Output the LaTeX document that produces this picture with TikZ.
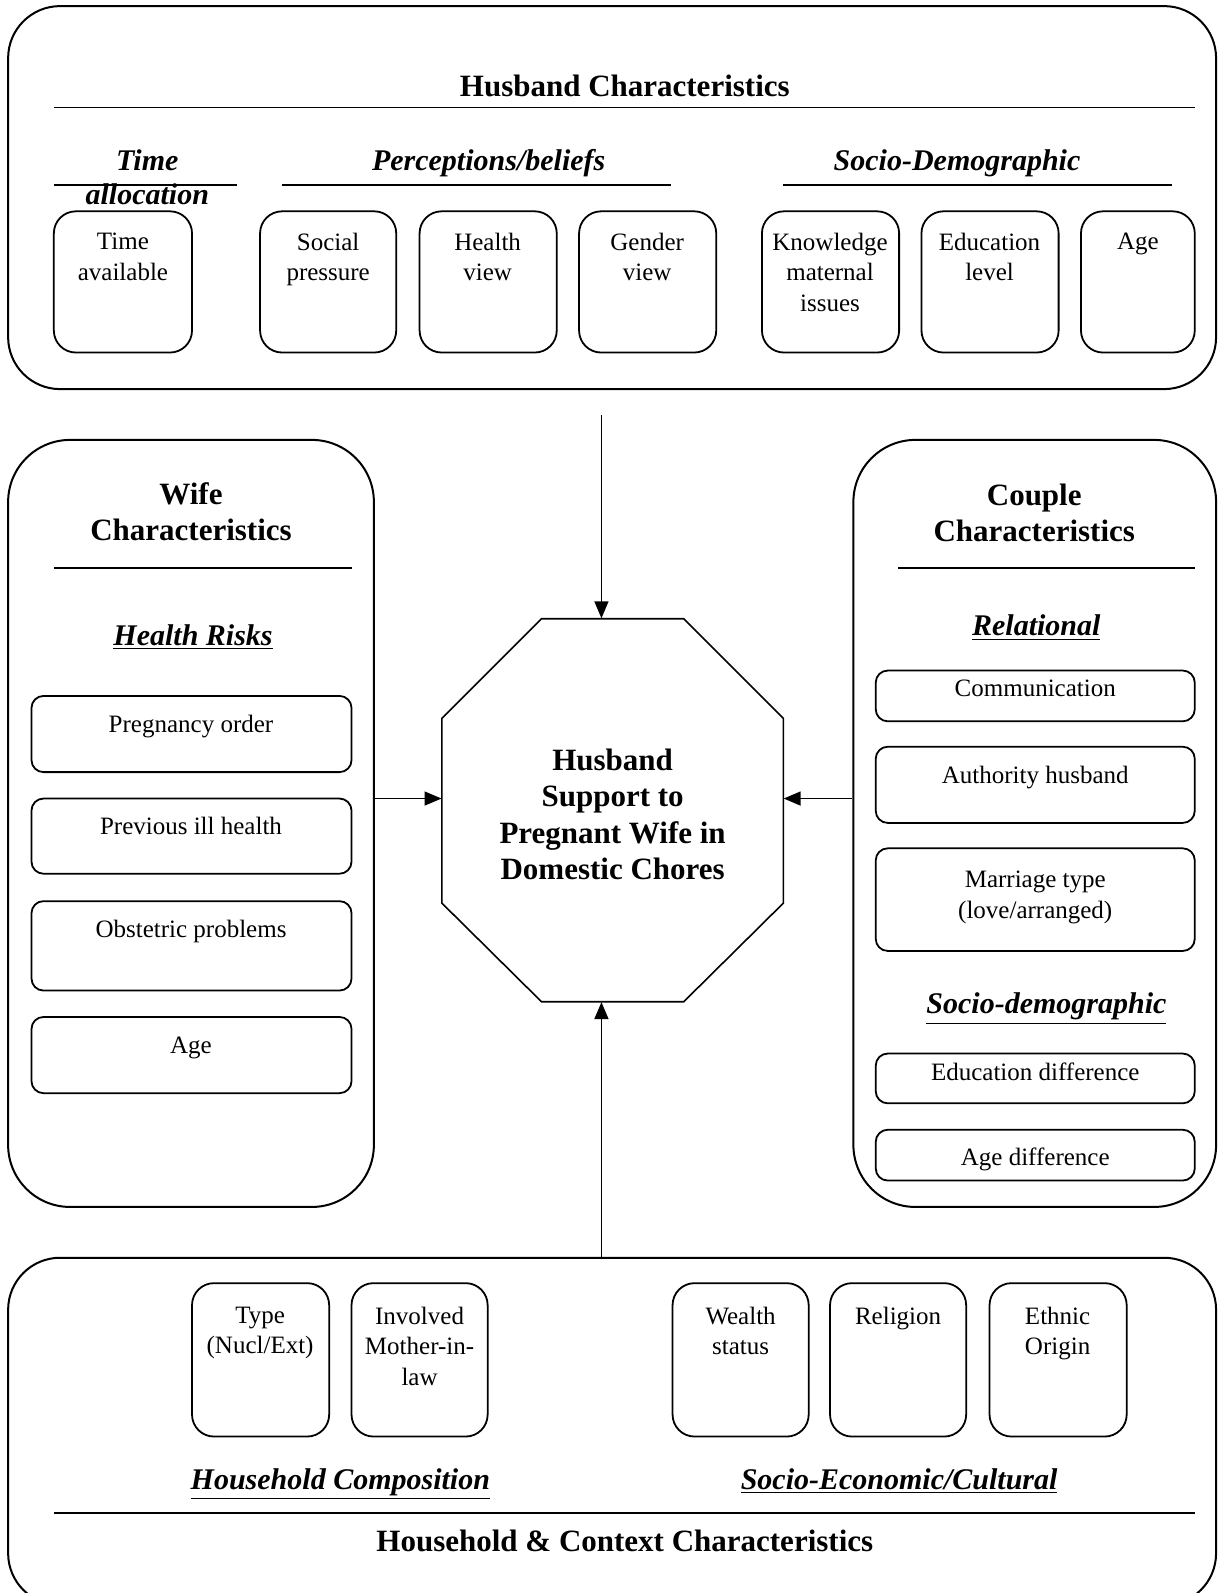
\documentclass[tikz,border=0pt]{standalone}
\usepackage{fontspec}
\setmainfont{Liberation Serif}
\usetikzlibrary{fit,arrows.meta}
\tikzset{
 bigbox/.style={draw, line width=1pt, rounded corners=26pt, inner sep=0pt},
 sidebox/.style={draw, line width=1pt, rounded corners=31pt, inner sep=0pt},
 cell/.style={draw, line width=0.9pt, rounded corners=11pt, inner sep=0pt},
 bar/.style={draw, line width=0.9pt, rounded corners=6pt, inner sep=0pt},
 txt/.style={font=\fontsize{12.5}{15.2}\selectfont, align=center, inner sep=0pt, anchor=north},
 head/.style={font=\bfseries\fontsize{15.5}{17.8}\selectfont, align=center, inner sep=0pt, anchor=north},
 octtxt/.style={font=\bfseries\fontsize{15.5}{18.1}\selectfont, align=center, inner sep=0pt, anchor=north},
 sub/.style={font=\bfseries\itshape\fontsize{15}{16.8}\selectfont, align=center, inner sep=0pt, anchor=north},
 rule/.style={line width=0.8pt},
 arr/.style={line width=0.8pt, -{Triangle[length=8.5pt,width=7pt]}},
}
\begin{document}
\begin{tikzpicture}[x=0.508pt,y=-0.508pt]
\useasboundingbox (0,0) rectangle (1199,1568);
\clip (0,0) rectangle (1199,1568);

% ---------- Husband characteristics ----------
\node[bigbox, fit={(8,6) (1197,383)}] (husb) {};
\node[head] (husbT) at (615,73) {Husband Characteristics};
\draw[rule] (53,106) -- (1176,106);
\node[sub] (sTime) at (145,147) {Time\\allocation};
\node[sub] (sPerc) at (481,147) {Perceptions/beliefs};
\node[sub] (sSoc) at (942,147) {Socio-Demographic};
\draw[rule] (53,182) -- (233,182);
\draw[rule] (278,182) -- (660,182);
\draw[rule] (771,182) -- (1154,182);

\node[cell, fit={(53,208) (189,347)}] (tav) {};
\node[txt] (tavT) at (121,229) {Time\\available};
\node[cell, fit={(256,208) (390,347)}] (socp) {};
\node[txt] (socpT) at (323,229) {Social\\pressure};
\node[cell, fit={(413,208) (548,347)}] (hv) {};
\node[txt] (hvT) at (480,229) {Health\\view};
\node[cell, fit={(570,208) (705,347)}] (gv) {};
\node[txt] (gvT) at (637,229) {Gender\\view};
\node[cell, fit={(750,208) (885,347)}] (kn) {};
\node[txt] (knT) at (817,229) {Knowledge\\maternal\\issues};
\node[cell, fit={(907,208) (1042,347)}] (ed) {};
\node[txt] (edT) at (974,229) {Education\\level};
\node[cell, fit={(1064,208) (1176,347)}] (hage) {};
\node[txt] (hageT) at (1120,229) {Age};

% ---------- Wife characteristics ----------
\node[sidebox, fit={(8,433) (368,1188)}] (wife) {};
\node[head] (wifeT) at (188,475) {Wife\\Characteristics};
\draw[rule] (53,559) -- (346,559);
\node[sub] (hr) at (190,614) {\underline{Health Risks}};
\node[bar, fit={(31,685) (346,760)}] (po) {};
\node[txt] (poT) at (188,704) {Pregnancy order};
\node[bar, fit={(31,786) (346,860)}] (pih) {};
\node[txt] (pihT) at (188,804) {Previous ill health};
\node[bar, fit={(31,887) (346,975)}] (obs) {};
\node[txt] (obsT) at (188,905) {Obstetric problems};
\node[bar, fit={(31,1001) (346,1076)}] (wage) {};
\node[txt] (wageT) at (188,1020) {Age};

% ---------- Couple characteristics ----------
\node[sidebox, fit={(840,433) (1197,1188)}] (coup) {};
\node[head] (coupT) at (1018,476) {Couple\\Characteristics};
\draw[rule] (884,559) -- (1176,559);
\node[sub] (relH) at (1020,605) {\underline{Relational}};
\node[bar, fit={(862,660) (1176,710)}] (com) {};
\node[txt] (comT) at (1019,669) {Communication};
\node[bar, fit={(862,735) (1176,810)}] (auth) {};
\node[txt] (authT) at (1019,754) {Authority husband};
\node[bar, fit={(862,835) (1176,936)}] (mar) {};
\node[txt] (marT) at (1019,857) {Marriage type\\(love/arranged)};
\node[sub] (sdH) at (1030,977) {\underline{Socio-demographic}};
\node[bar, fit={(862,1037) (1176,1086)}] (edd) {};
\node[txt] (eddT) at (1019,1046) {Education difference};
\node[bar, fit={(862,1112) (1176,1162)}] (agd) {};
\node[txt] (agdT) at (1019,1129) {Age difference};

% ---------- Centre octagon ----------
\node[fit={(435,609) (771,986)}, inner sep=0pt] (oct) {};
\draw[line width=0.8pt] (533,609) -- (673,609) -- (771,707) -- (771,889) -- (673,986)
  -- (533,986) -- (435,889) -- (435,707) -- cycle;
\node[octtxt] (octT) at (603,737) {Husband\\Support to\\Pregnant Wife in\\Domestic Chores};

% ---------- Household & context ----------
\node[bigbox, fit={(8,1238) (1197,1580)}] (hh) {};
\node[cell, fit={(189,1263) (324,1414)}] (typ) {};
\node[txt] (typT) at (256,1286) {Type\\(Nucl/Ext)};
\node[cell, fit={(346,1263) (480,1414)}] (inv) {};
\node[txt] (invT) at (413,1286) {Involved\\Mother-in-\\law};
\node[cell, fit={(662,1263) (796,1414)}] (wea) {};
\node[txt] (weaT) at (729,1286) {Wealth\\status};
\node[cell, fit={(817,1263) (951,1414)}] (rel) {};
\node[txt] (relT) at (884,1286) {Religion};
\node[cell, fit={(974,1263) (1109,1414)}] (eth) {};
\node[txt] (ethT) at (1041,1286) {Ethnic\\Origin};
\node[sub] (hcH) at (335,1445) {\underline{Household Composition}};
\node[sub] (secH) at (885,1445) {\underline{Socio-Economic/Cultural}};
\draw[rule] (53,1489) -- (1176,1489);
\node[head] (hhT) at (615,1506) {Household \& Context Characteristics};

% ---------- Arrows ----------
\coordinate (topsrc) at (592,408);
\draw[arr] (topsrc) -- (topsrc |- oct.north);
\draw[arr] (hh.north -| topsrc) -- (oct.south -| topsrc);
\coordinate (midy) at (0,786);
\draw[arr] (wife.east |- midy) -- (oct.west |- midy);
\draw[arr] (coup.west |- midy) -- (oct.east |- midy);
\end{tikzpicture}
\end{document}
